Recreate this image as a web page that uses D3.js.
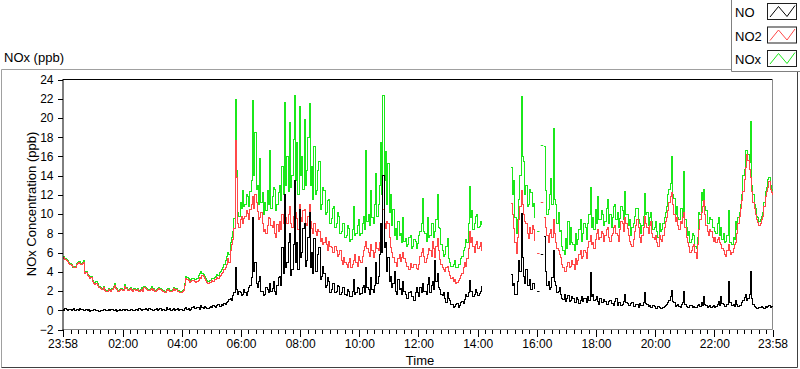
<!DOCTYPE html>
<html><head><meta charset="utf-8">
<script src="https://cdn.jsdelivr.net/npm/d3@7"></script>
<style>
body{margin:0;background:#fff;}
svg{display:block;font-family:"Liberation Sans",Arial,sans-serif;}
</style>
</head><body>
<svg id="c" width="800" height="369"></svg>
<script>
// ---------------- DATA ----------------
const stepMinutes = 2.5;          // sample spacing, starting 23:58
const seriesNames = ["NO", "NO2", "NOx"];
const seriesColors = ["#000000", "#ff4848", "#1be81b"];
const yTicks = [-2,0,2,4,6,8,10,12,14,16,18,20,22,24];
const xTickLabels = ["23:58","02:00","04:00","06:00","08:00","10:00","12:00","14:00","16:00","18:00","20:00","22:00","23:58"];
const N = null;

const NO2 = [
5.4,5.5,5.3,5.2,5.1,4.9,4.8,4.7,4.6,4.4,4.5,4.8,4.9,5.0,4.9,4.8,4.9,5.0,3.8,3.9,
3.6,3.5,3.3,3.4,3.0,2.8,2.7,2.8,2.6,2.4,2.4,2.3,2.2,2.4,2.1,2.0,2.0,2.2,2.1,2.0,
2.2,2.4,2.6,2.3,2.2,2.0,2.1,2.2,2.2,2.1,2.5,2.3,2.3,2.1,2.2,2.3,2.1,2.0,2.2,2.1,
2.1,2.2,2.0,2.1,2.2,2.0,2.4,2.3,2.2,2.1,2.1,2.2,2.3,2.1,2.2,2.0,2.1,2.2,2.3,2.2,
2.1,2.0,2.0,1.9,2.1,2.2,2.1,2.0,2.0,2.1,2.3,2.1,2.2,2.0,2.0,1.8,1.9,2.0,2.1,2.6,
3.3,3.2,3.1,2.9,3.0,3.1,3.1,3.0,2.9,3.0,3.1,3.4,3.3,3.6,3.5,3.3,3.1,2.9,2.8,2.9,
2.9,3.1,3.0,3.2,3.2,3.4,3.3,3.5,3.6,3.8,3.9,4.2,4.4,4.8,5.4,5.0,6.2,6.8,7.4,8.5,
17.7,13.8,9.0,8.6,9.4,9.8,9.0,9.5,9.8,10.4,10.1,9.4,10.5,11.0,11.8,10.6,12.0,11.2,10.3,9.4,
9.6,10.2,9.0,8.2,8.4,8.0,8.8,9.6,9.5,8.8,8.6,9.2,8.0,7.6,8.9,8.2,9.2,8.4,10.0,9.0,
11.5,9.6,9.0,10.0,10.8,9.0,8.6,9.8,12.0,10.2,9.5,8.4,11.0,9.6,9.2,10.4,10.5,9.0,8.8,9.8,
11.0,9.2,8.5,8.0,9.0,8.2,7.8,8.4,8.2,7.2,7.5,6.8,7.0,7.6,6.8,6.2,7.2,6.6,6.5,6.0,
6.0,6.6,6.2,5.6,5.8,6.2,5.2,4.8,5.5,5.0,4.8,4.4,5.0,5.4,4.4,4.8,5.2,5.8,5.0,4.6,
5.6,5.2,5.0,5.6,6.2,6.6,7.2,6.4,6.0,5.6,6.8,6.2,5.5,6.0,7.0,6.4,6.2,7.0,8.0,8.8,
10.5,9.0,8.5,9.2,9.0,7.6,6.5,6.0,5.5,5.0,5.0,4.6,5.4,5.8,5.1,5.5,6.0,5.4,5.0,4.6,
4.6,4.2,4.9,4.5,4.4,4.8,4.8,4.3,4.2,4.8,5.6,6.0,6.4,5.6,5.0,5.4,5.8,6.4,6.2,5.6,
7.2,6.4,5.5,6.6,7.5,6.2,5.3,4.8,4.5,4.2,4.0,4.4,4.6,4.0,3.6,3.3,3.4,3.0,3.2,2.8,
2.9,3.1,3.3,3.6,3.8,4.4,5.0,4.6,5.4,6.4,8.2,7.0,7.6,6.6,6.0,6.8,7.2,6.4,6.6,7.0,
6.2,N,N,N,N,N,N,N,N,N,N,N,N,N,N,N,N,N,N,N,
N,N,N,N,11.1,10.0,8.5,7.0,5.9,7.6,9.4,10.8,12.5,11.0,10.0,9.2,9.0,8.0,7.5,8.6,
8.0,8.8,8.4,7.2,N,6.0,N,N,11.3,N,N,9.6,8.6,7.8,7.0,8.0,8.4,7.6,9.4,8.0,
7.0,6.4,6.2,5.8,5.5,4.8,4.4,4.0,4.0,4.6,5.0,4.4,4.6,5.2,4.8,4.2,5.4,4.8,5.2,5.8,
6.2,5.4,5.6,6.2,6.0,5.4,6.5,7.2,7.8,6.8,7.0,6.4,7.4,8.0,8.4,7.4,7.6,8.2,8.0,7.2,
7.8,8.4,8.6,7.6,7.2,7.8,8.0,8.6,8.8,8.0,7.8,7.2,8.4,9.2,9.0,8.2,9.6,9.0,8.5,7.8,
7.2,6.8,6.6,7.4,8.2,8.8,9.4,8.6,7.6,7.0,7.8,8.6,9.8,9.0,8.6,8.0,8.8,9.2,8.0,7.6,
7.4,7.8,7.0,6.6,7.8,7.4,7.2,7.8,8.6,9.2,9.6,10.4,11.2,11.8,12.2,11.0,10.0,9.2,9.6,8.8,
8.4,9.2,9.0,9.6,10.2,8.6,7.6,7.0,6.6,6.0,6.2,6.6,6.8,6.0,5.4,6.8,8.4,9.4,10.2,10.8,
11.4,10.0,8.8,8.2,7.8,8.4,8.2,7.6,7.2,7.6,7.0,7.4,7.6,7.0,6.8,6.4,6.2,5.8,5.6,6.2,
6.8,6.2,5.8,6.0,6.4,6.8,7.0,8.0,9.0,9.8,10.6,11.4,12.4,13.6,14.8,16.2,15.6,14.6,13.8,12.4,
11.2,10.6,10.0,9.4,9.1,8.8,9.0,9.4,9.8,10.8,11.8,12.4,12.8,13.4,12.6,12.2,12.0
];

const NOx = [
5.5,5.6,5.4,5.3,5.2,5.0,4.9,4.8,4.5,4.5,4.6,4.9,5.0,5.1,5.1,4.9,5.0,5.2,3.9,4.0,
3.7,3.6,3.4,3.5,3.1,2.9,2.9,3.0,2.8,2.5,2.5,2.4,2.3,2.5,2.2,2.1,2.1,2.3,2.2,2.1,
2.3,2.5,2.8,2.4,2.3,2.1,2.2,2.3,2.3,2.2,2.7,2.4,2.4,2.2,2.3,2.4,2.2,2.1,2.3,2.2,
2.2,2.3,2.1,2.2,2.4,2.1,2.5,2.4,2.3,2.2,2.2,2.3,2.5,2.2,2.3,2.1,2.2,2.3,2.4,2.3,
2.2,2.1,2.1,2.0,2.2,2.3,2.3,2.1,2.1,2.2,2.4,2.2,2.3,2.1,2.1,1.9,2.0,2.1,2.2,2.8,
3.5,3.4,3.3,3.1,3.2,3.3,3.3,3.2,3.2,3.3,3.6,3.8,4.0,3.8,3.7,3.5,3.3,3.1,3.0,3.1,
3.1,3.3,3.3,3.4,3.5,3.7,3.6,3.9,4.0,4.2,4.4,4.8,5.2,5.6,6.0,5.8,7.0,7.6,8.2,9.5,
21.9,14.5,10.2,9.8,11.2,10.6,12.5,10.8,11.0,12.0,11.8,10.8,12.4,13.5,21.8,14.0,18.5,12.6,13.0,11.0,
15.8,11.2,12.2,10.0,11.2,10.4,12.5,11.0,16.6,10.6,11.8,12.8,12.6,10.4,11.0,12.2,13.0,11.4,15.0,12.0,
21.6,13.0,16.0,12.4,19.5,12.8,14.0,17.8,22.3,13.5,17.5,12.0,21.2,14.0,16.0,12.6,19.8,13.0,14.5,18.0,
21.5,13.0,15.0,11.5,17.0,12.0,12.5,14.5,15.5,10.5,11.0,12.8,12.5,10.0,10.2,11.4,11.5,9.0,9.5,10.6,
10.8,8.6,9.0,10.2,9.8,8.0,8.2,9.0,9.0,7.6,7.8,8.8,8.5,7.2,7.4,8.4,10.8,7.8,8.0,8.8,
9.4,7.8,8.0,9.0,9.8,8.4,16.6,9.2,10.0,8.8,12.5,9.6,9.0,11.0,14.2,9.8,11.0,13.0,17.5,12.0,
22.3,13.5,16.5,11.0,15.3,10.2,12.0,8.8,10.5,7.8,8.5,7.4,9.2,7.8,8.0,7.0,9.7,7.2,7.5,6.6,
6.8,7.6,7.8,6.4,6.6,7.4,7.2,6.4,6.9,7.8,8.2,9.0,11.6,8.2,8.0,7.2,9.7,7.6,7.8,9.0,
9.0,7.6,8.2,9.4,12.0,8.6,8.5,6.8,6.2,5.6,5.8,6.6,7.5,5.4,5.0,4.6,4.6,4.8,5.2,4.4,
4.4,4.8,4.8,5.4,5.6,6.2,6.5,7.4,7.0,9.0,12.9,9.6,10.4,8.4,9.0,9.8,10.0,8.6,8.7,9.2,
8.9,N,N,N,N,N,N,N,N,N,N,N,N,N,N,N,N,N,N,N,
N,N,N,N,14.9,12.0,13.5,9.6,8.0,9.4,11.5,14.0,22.2,16.0,15.5,12.0,13.0,10.8,11.0,12.6,
12.2,10.8,11.1,9.6,N,8.2,N,N,17.2,N,N,17.0,12.5,10.0,10.5,12.0,13.7,11.0,18.9,11.5,
11.0,9.0,10.2,8.2,8.3,6.6,6.2,5.8,7.5,6.4,9.2,6.8,8.6,7.0,6.8,6.2,8.0,6.8,7.4,8.4,
9.4,7.2,8.0,9.0,8.6,7.4,9.0,10.0,12.8,8.6,9.6,8.4,10.5,9.0,11.8,9.4,9.4,10.4,10.0,8.8,
9.2,10.6,11.5,9.0,10.0,8.6,9.6,10.8,11.0,9.4,10.2,8.6,9.5,10.8,10.4,9.4,12.4,10.0,10.0,8.8,
9.4,7.8,8.6,9.0,9.8,10.6,10.6,9.4,9.0,8.0,8.8,9.8,12.1,10.0,10.2,8.8,9.6,10.2,9.2,8.4,
8.6,9.2,8.2,7.6,9.0,8.2,8.4,9.0,9.6,10.2,10.8,12.0,12.6,13.2,16.0,12.0,11.6,10.0,10.8,9.6,
9.4,10.6,10.6,9.8,14.4,9.4,8.6,7.8,8.2,7.0,7.4,8.0,7.8,6.6,6.4,7.6,10.2,10.0,12.2,11.4,
12.6,10.8,10.4,9.0,9.0,9.6,9.4,8.6,8.6,8.2,8.0,9.0,9.6,7.8,8.6,7.4,8.0,7.0,7.2,7.8,
10.4,7.0,7.0,6.8,7.6,7.4,9.2,8.4,9.6,10.2,11.0,12.0,14.0,14.6,16.6,16.6,16.2,15.4,19.6,13.0,
12.0,11.0,10.6,9.8,9.6,9.2,9.4,9.8,10.2,11.2,12.4,12.8,13.6,13.8,13.0,12.6,12.4
];

const NO = [
0.1,0.0,0.2,0.1,0.0,0.1,0.1,0.0,0.1,0.2,0.0,0.1,0.1,0.0,0.2,0.1,0.1,0.0,0.0,0.1,
0.0,0.1,-0.1,0.0,0.0,0.1,0.1,0.0,0.0,-0.1,-0.1,0.0,0.0,0.1,0.1,0.0,0.0,0.1,0.0,0.1,
0.1,0.0,0.0,0.1,-0.1,0.0,0.1,0.0,0.0,0.1,0.0,0.1,0.1,0.0,0.0,0.1,0.1,0.0,0.0,0.1,
0.1,0.0,0.2,0.1,0.0,0.1,0.1,0.2,0.1,0.0,0.2,0.1,0.1,0.0,0.0,0.1,0.2,0.0,0.1,0.2,
0.0,0.1,0.1,0.0,0.3,0.1,0.1,0.2,0.0,0.1,0.2,0.0,0.1,0.2,0.0,0.1,0.1,0.0,0.0,0.2,
0.3,0.1,0.2,0.0,0.1,0.3,0.4,0.2,0.2,0.3,0.3,0.1,0.5,0.3,0.2,0.4,0.3,0.2,0.2,0.3,
0.4,0.3,0.5,0.4,0.3,0.5,0.6,0.4,0.4,0.6,0.5,0.7,0.6,0.8,0.9,1.1,1.2,1.0,1.5,1.8,
4.4,2.2,1.6,2.0,1.9,1.5,1.6,2.2,1.8,1.5,2.0,2.4,2.6,3.4,9.6,4.0,5.0,2.8,2.4,3.0,
3.5,2.0,2.0,1.5,1.6,2.4,2.2,1.8,2.8,2.0,2.3,3.0,2.0,1.6,2.6,3.4,3.5,2.6,6.5,3.8,
12.0,4.5,5.0,7.0,8.0,3.6,4.2,6.8,13.5,5.0,7.0,4.2,10.5,5.5,6.0,8.5,9.0,4.6,5.2,7.6,
10.2,4.5,6.0,3.8,7.5,4.0,4.0,5.8,6.5,3.2,3.5,4.6,3.8,2.4,2.6,3.4,3.0,1.8,2.2,2.8,
2.8,1.8,2.0,2.6,2.5,1.6,1.8,2.4,2.4,1.6,1.5,2.2,2.0,1.4,1.4,2.0,3.2,1.6,1.8,2.4,
2.3,1.6,1.7,2.4,2.6,1.8,4.5,2.4,2.2,1.6,3.4,2.2,1.8,2.6,5.0,2.8,3.5,5.8,9.0,6.0,
14.0,6.5,7.0,4.0,5.5,3.0,3.5,2.4,2.8,4.0,2.0,1.6,3.2,2.2,2.3,1.6,3.0,2.0,1.6,1.2,
1.2,1.8,2.0,1.4,1.4,1.0,1.8,2.4,1.9,1.4,2.4,1.8,2.8,2.0,2.0,1.6,2.7,3.4,1.8,2.6,
3.0,2.2,5.2,3.0,3.8,2.4,2.2,1.6,1.5,1.8,1.2,0.8,1.8,1.2,1.0,0.6,0.6,0.3,0.4,0.6,
0.7,0.3,0.5,0.8,0.9,0.7,1.1,1.6,1.4,1.8,3.1,2.0,2.0,1.4,1.6,2.2,1.9,1.5,1.7,2.0,
2.5,N,N,N,N,N,N,N,N,N,N,N,N,N,N,N,N,N,N,N,
N,N,N,N,3.7,2.6,2.8,1.6,1.6,3.0,5.2,4.0,10.1,5.5,3.5,2.8,4.2,2.6,2.6,3.2,
2.2,2.8,2.8,2.2,N,2.0,N,N,5.9,N,N,7.7,4.0,2.6,3.0,2.2,2.4,3.4,6.2,3.0,
2.6,1.8,2.0,2.4,1.6,1.2,1.1,1.6,0.9,1.2,1.5,0.9,1.0,1.4,1.2,0.8,0.8,1.3,1.1,0.7,
1.0,1.4,0.9,1.2,1.2,0.8,1.4,1.0,3.9,1.4,1.6,1.0,1.1,1.4,0.9,0.6,1.2,0.8,0.8,1.1,
0.9,0.6,0.6,0.9,1.0,0.7,0.7,0.5,0.9,1.2,0.5,0.8,0.8,0.5,0.6,0.9,1.6,0.8,0.7,0.5,
0.5,0.7,0.8,0.4,0.4,0.6,0.6,0.3,0.7,0.5,0.5,0.8,1.8,0.7,0.6,0.4,0.5,0.3,0.3,0.5,
0.4,0.2,0.2,0.4,0.3,0.2,0.2,0.3,0.4,0.5,0.6,0.8,1.0,1.4,2.1,0.9,0.8,0.4,0.5,0.6,
0.4,0.3,0.6,0.8,2.0,0.6,0.4,0.3,0.3,0.5,0.5,0.3,0.4,0.3,0.3,0.5,0.6,0.4,0.8,0.5,
1.4,0.6,0.5,0.3,0.4,0.5,0.3,0.4,0.5,0.3,0.4,0.6,0.9,0.5,1.4,0.7,0.6,0.4,0.4,0.6,
3.0,0.8,0.8,0.5,0.6,0.4,1.0,0.6,0.4,0.5,0.5,0.8,1.0,1.3,1.6,1.0,1.2,1.6,4.0,1.2,
0.6,0.4,0.3,0.2,0.2,0.3,0.3,0.4,0.3,0.2,0.4,0.3,0.4,0.5,0.3,0.4,0.4
];

// ---------------- CHART ----------------
const svg = d3.select("#c");
const t0 = Date.UTC(2000, 0, 1, 23, 58);
const start = new Date(t0), end = new Date(t0 + 1440 * 60000);
const x = d3.scaleUtc().domain([start, end]).range([62.5, 772.5]);
const y = d3.scaleLinear().domain([-2, 24]).range([329.5, 79.5]);
const times = NO.map((_, i) => new Date(t0 + i * stepMinutes * 60000));

// outer frame
svg.append("path").attr("d", "M1.5,367.5 V69.5 H731").attr("fill","none").attr("stroke","#a0a0a0");
svg.append("path").attr("d", "M1.5,367.5 H797.5 V71").attr("fill","none").attr("stroke","#404040");

// title
svg.append("text").attr("x", 4).attr("y", 62).attr("font-size", 13).attr("fill","#000").text("NOx (ppb)");

// plot frame (top + right + bottom)
svg.append("line").attr("x1",62.5).attr("x2",772.5).attr("y1",79.5).attr("y2",79.5).attr("stroke","#000");
svg.append("line").attr("x1",772.5).attr("x2",772.5).attr("y1",79.5).attr("y2",329.5).attr("stroke","#8a8a8a");
svg.append("line").attr("x1",62.5).attr("x2",772.5).attr("y1",329.5).attr("y2",329.5).attr("stroke","#8a8a8a");

// series lines (step-style traces)
const seriesData = [NO, NO2, NOx];
const line = d3.line()
  .defined(d => d.v != null)
  .x(d => x(d.t)).y(d => y(d.v))
  .curve(d3.curveStepAfter);
const plot = svg.append("g");
[2, 1, 0].forEach(k => {
  const pts = seriesData[k].map((v, i) => ({t: times[i], v}));
  plot.append("path").datum(pts)
    .attr("d", line)
    .attr("fill", "none")
    .attr("stroke", seriesColors[k])
    .attr("stroke-width", 1)
    .attr("shape-rendering", "crispEdges");
  // isolated samples drawn as short dashes
  const iso = pts.map((p, i) => ({p, i})).filter(({p, i}) =>
    p.v != null && (i === 0 || pts[i-1].v == null) && (i === pts.length-1 || pts[i+1].v == null));
  plot.selectAll(null).data(iso).enter().append("line")
    .attr("x1", d => x(d.p.t))
    .attr("x2", d => x(new Date(+d.p.t + 2 * stepMinutes * 60000)))
    .attr("y1", d => Math.round(y(d.p.v)) + 0.5)
    .attr("y2", d => Math.round(y(d.p.v)) + 0.5)
    .attr("stroke", seriesColors[k]);
});

// y axis
const yAxis = svg.append("g").attr("transform", "translate(62.5,0)")
  .call(d3.axisLeft(y).tickValues(yTicks).tickSize(5).tickSizeOuter(0).tickPadding(4));
yAxis.selectAll("text").attr("font-size", 12).attr("fill", "#000").attr("font-family", "Liberation Sans, Arial, sans-serif");
yAxis.select(".domain").attr("stroke", "#000");

// x axis
function parseLabel(s, idx) {
  if (idx === 0) return start;
  if (idx === xTickLabels.length - 1) return end;
  const [h, m] = s.split(":").map(Number);
  return new Date(Date.UTC(2000, 0, 2, h, m));
}
const majorTimes = xTickLabels.map(parseLabel);
const minorTimes = d3.utcMinute.every(15).range(start, end);
const xMinor = svg.append("g").attr("transform", "translate(0,329.5)")
  .call(d3.axisBottom(x).tickValues(minorTimes).tickSize(4).tickSizeOuter(0).tickFormat(""));
xMinor.select(".domain").remove();
const xMajor = svg.append("g").attr("transform", "translate(0,329.5)")
  .call(d3.axisBottom(x).tickValues(majorTimes).tickSize(7).tickSizeOuter(0).tickPadding(3)
    .tickFormat((d, i) => xTickLabels[i]));
xMajor.select(".domain").remove();
xMajor.selectAll("text").attr("font-size", 12).attr("fill", "#000").attr("font-family", "Liberation Sans, Arial, sans-serif");
svg.selectAll(".tick line").attr("shape-rendering", "crispEdges");

// axis titles
svg.append("text").attr("x", 420).attr("y", 365).attr("text-anchor", "middle")
  .attr("font-size", 13).attr("fill","#000").text("Time");
svg.append("text").attr("transform", "translate(35.5,204) rotate(-90)").attr("text-anchor", "middle")
  .attr("font-size", 13).attr("fill","#000").text("NOx Concentration (ppb)");

// legend
const lg = svg.append("g");
lg.append("path").attr("d", "M731.5,0 V71.5 H800").attr("fill","none").attr("stroke","#808080");
const rowsY = [3.5, 27, 50.5];
seriesNames.forEach((name, k) => {
  const top = rowsY[k];
  lg.append("text").attr("x", 735).attr("y", top + 13.5).attr("font-size", 13).attr("fill","#000").text(name);
  lg.append("rect").attr("x", 767.5).attr("y", top).attr("width", 29).attr("height", 16)
    .attr("fill", "#fff").attr("stroke", "#202020");
  lg.append("path")
    .attr("d", d3.line()([[770, top + 13.5], [778.5, top + 3], [787, top + 13], [795, top + 2]]))
    .attr("fill", "none").attr("stroke", seriesColors[k]);
});
</script>
</body></html>
